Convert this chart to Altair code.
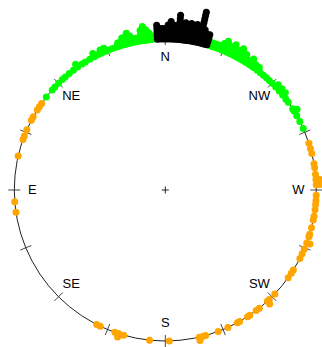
import altair as alt
import pandas as pd

# Compass bearings (degrees) of the binned observations and how many fall in each bin.
black_dirs = [3, 2, 1, 0, 359, 358, 357, 356, 355, 354, 353, 352, 351, 350,
              349, 348, 347, 346, 345, 344]
black_counts = [5, 4, 4, 4, 5, 6, 5, 5, 8, 5, 6, 4, 6, 4, 6, 5, 10, 5, 4, 4]

green_dirs = [5, 6, 7, 8, 9, 10, 11, 12, 13, 14, 15, 16, 17, 18, 19, 20.5, 22,
              23.5, 25, 26.5, 28, 30, 32, 33.5, 35.5, 37.5, 39.5, 41.5, 43, 45,
              47, 48.5, 52,
              343, 342, 341, 340, 339, 338, 337, 336, 335, 334, 333, 332, 331,
              330, 329, 328, 327, 326, 325, 324, 322.5, 321, 319.5, 318, 316.5,
              315, 313, 311, 309, 307, 305.5, 302.5, 301.5, 299.5, 297, 294]
green_counts = [2, 3, 4, 5, 4, 2, 2, 2, 3, 4, 3, 3, 2, 2, 1, 1, 1,
                2, 2, 1, 2, 1, 1, 1, 2, 1, 1, 1, 1, 1,
                1, 1, 1,
                2, 2, 2, 2, 2, 3, 4, 2, 3, 4, 2, 3, 4,
                2, 3, 2, 2, 3, 2, 2, 2, 1, 1, 1, 1,
                1, 2, 2, 2, 1, 1, 1, 2, 1, 1, 1]

orange_dirs = [55, 56.5, 58, 61, 62.5, 66.5, 69, 70.5, 77, 94.5, 98.5,
               153, 154.5, 160.5, 162, 164, 174, 181.5, 193, 194.5, 195.5,
               200.5, 204.5, 208.5, 209.5, 213, 214, 217, 218.5, 222.5, 223.5,
               226.5, 234.5, 236.5, 238, 243, 245, 247, 249.5, 252, 253, 255.5,
               258.5, 260, 262.5, 264.5, 266, 268, 272, 274, 276, 278.5, 280,
               284, 286, 288]
orange_counts = [1, 1, 1, 1, 1, 1, 1, 1, 1, 1, 1,
                 1, 1, 1, 2, 1, 1, 1, 2, 1, 1,
                 1, 1, 1, 1, 1, 1, 1, 1, 2, 1,
                 1, 1, 1, 1, 1, 1, 1, 2, 1, 1, 1,
                 1, 1, 1, 1, 1, 1, 2, 2, 1, 1, 1,
                 1, 1, 1]

compass_labels = ["N", "NE", "E", "SE", "S", "SW", "W", "NW"]
label_dirs = [0, 45, 90, 135, 180, 225, 270, 315]
tick_dirs = [0, 22.5, 45, 67.5, 90, 112.5, 135, 157.5,
             180, 202.5, 225, 247.5, 270, 292.5, 315, 337.5]

# Geometry of the circular axis (in pixel-sized data units)
R = 151
STACK_SEP = 3.5
LABEL_R = 133
TICK_HALF = 6

rows = []
for name, dirs, counts in [("green", green_dirs, green_counts),
                           ("orange", orange_dirs, orange_counts),
                           ("black", black_dirs, black_counts)]:
    for d, n in zip(dirs, counts):
        for level in range(n):
            rows.append({"dir": d, "level": level, "group": name})
points = pd.DataFrame(rows)

xs = alt.Scale(domain=[-165.3, 156.7], nice=False, zero=False)
ys = alt.Scale(domain=[-157, 190], nice=False, zero=False)

# Bearings run counter-clockwise on screen: N at top, E on the left.
rad = "datum.dir * PI / 180"

dots = alt.Chart(points).transform_calculate(
    r=f"{R} + datum.level * {STACK_SEP}"
).transform_calculate(
    x=f"-datum.r * sin({rad})", y=f"datum.r * cos({rad})"
).mark_circle(size=49, opacity=1).encode(
    x=alt.X("x:Q", scale=xs, axis=None),
    y=alt.Y("y:Q", scale=ys, axis=None),
    color=alt.Color("group:N", legend=None,
                    scale=alt.Scale(domain=["black", "green", "orange"],
                                    range=["#000000", "#00FF00", "#FFA500"])),
)

origin = pd.DataFrame({"x": [0.0], "y": [0.0]})

# symbol size is the square of its diameter
ring = alt.Chart(origin).mark_point(
    shape="circle", size=(2 * R) ** 2, filled=False,
    stroke="#222222", strokeWidth=1, opacity=1
).encode(
    x=alt.X("x:Q", scale=xs, axis=None),
    y=alt.Y("y:Q", scale=ys, axis=None),
)

center = alt.Chart(origin).mark_point(
    shape="M-1,0L1,0M0,-1L0,1", size=49, filled=False,
    stroke="#222222", strokeWidth=1, opacity=1
).encode(
    x=alt.X("x:Q", scale=xs, axis=None),
    y=alt.Y("y:Q", scale=ys, axis=None),
)

ticks = alt.Chart(pd.DataFrame({"dir": tick_dirs})).transform_calculate(
    x=f"-{R - TICK_HALF} * sin({rad})", y=f"{R - TICK_HALF} * cos({rad})",
    x2=f"-{R + TICK_HALF} * sin({rad})", y2=f"{R + TICK_HALF} * cos({rad})",
).mark_rule(color="#333333", strokeWidth=0.9).encode(
    x=alt.X("x:Q", scale=xs, axis=None),
    y=alt.Y("y:Q", scale=ys, axis=None),
    x2="x2:Q",
    y2="y2:Q",
)

labels = alt.Chart(pd.DataFrame({"dir": label_dirs, "label": compass_labels})).transform_calculate(
    x=f"-{LABEL_R} * sin({rad})", y=f"{LABEL_R} * cos({rad})"
).mark_text(
    font="Liberation Sans", fontSize=13, color="#000000",
    align="center", baseline="middle"
).encode(
    x=alt.X("x:Q", scale=xs, axis=None),
    y=alt.Y("y:Q", scale=ys, axis=None),
    text="label:N",
)

chart = alt.layer(ring, ticks, center, labels, dots).properties(
    width=322, height=347, padding=0, autosize=alt.AutoSizeParams(type="none"),
    background="white",
).configure_view(stroke=None)

chart.save("out.html", embed_options={"renderer": "svg", "actions": False})
